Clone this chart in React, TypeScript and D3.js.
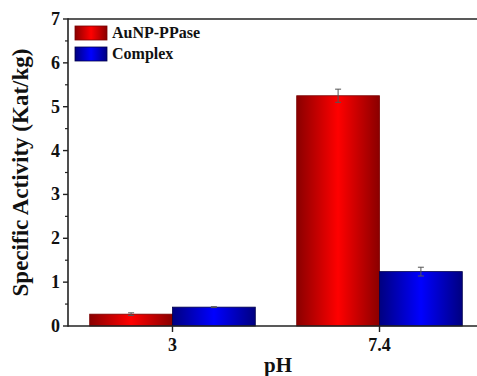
import * as d3 from 'd3';
import { useEffect, useRef } from 'react';

const categories = ['3', '7.4'];
const seriesNames = ['AuNP-PPase', 'Complex'];
const auValues = [0.27, 5.25];
const auErrors = [0.03, 0.15];
const complexValues = [0.43, 1.24];
const complexErrors = [0.01, 0.1];
const yTicks = [0, 1, 2, 3, 4, 5, 6, 7];

export default function App() {
  const ref = useRef<SVGSVGElement>(null);

  useEffect(() => {
    const width = 477;
    const height = 376;
    const svg = d3.select(ref.current);
    svg.selectAll('*').remove();
    svg.attr('width', width).attr('height', height);

    const margin = { top: 19, left: 68, bottom: 50 };
    // category axis runs 0.5 .. 2.5, right end is cut off by the picture
    const x = d3.scaleLinear().domain([0.5, 2.5]).range([69, 483]);
    const y = d3.scaleLinear().domain([0, 7]).range([height - margin.bottom, margin.top]);

    const defs = svg.append('defs');
    const makeGrad = (id: string, dark: string, bright: string) => {
      const g = defs.append('linearGradient').attr('id', id)
        .attr('x1', '0%').attr('x2', '100%').attr('y1', '0%').attr('y2', '0%');
      g.append('stop').attr('offset', '0%').attr('stop-color', dark);
      g.append('stop').attr('offset', '50%').attr('stop-color', bright);
      g.append('stop').attr('offset', '100%').attr('stop-color', dark);
    };
    makeGrad('gradRed', '#8a0000', '#ff0000');
    makeGrad('gradBlue', '#000080', '#0000ff');

    const series = [
      { name: seriesNames[0], values: auValues, errors: auErrors, fill: 'url(#gradRed)', stroke: '#7a0000', offset: -0.4 },
      { name: seriesNames[1], values: complexValues, errors: complexErrors, fill: 'url(#gradBlue)', stroke: '#00004a', offset: 0 }
    ];

    const barW = 0.4;
    series.forEach((s) => {
      const rows = categories.map((c, i) => ({ c, i: i + 1, v: s.values[i], e: s.errors[i] }));
      svg.append('g')
        .selectAll('rect')
        .data(rows)
        .enter()
        .append('rect')
        .attr('x', (d) => x(d.i + s.offset))
        .attr('width', x(barW) - x(0))
        .attr('y', (d) => y(d.v))
        .attr('height', (d) => y(0) - y(d.v))
        .attr('fill', s.fill)
        .attr('stroke', s.stroke)
        .attr('stroke-width', 0.8);

      // error bars
      const eb = svg.append('g').attr('stroke', '#555').attr('stroke-width', 1);
      rows.forEach((d) => {
        const cx = x(d.i + s.offset + barW / 2);
        eb.append('line').attr('x1', cx).attr('x2', cx).attr('y1', y(d.v + d.e)).attr('y2', y(d.v - d.e));
        eb.append('line').attr('x1', cx - 3).attr('x2', cx + 3).attr('y1', y(d.v + d.e)).attr('y2', y(d.v + d.e));
        eb.append('line').attr('x1', cx - 3).attr('x2', cx + 3).attr('y1', y(d.v - d.e)).attr('y2', y(d.v - d.e));
      });
    });

    // frame: left, bottom, top
    const axisColor = '#222';
    svg.append('line').attr('x1', margin.left).attr('x2', width).attr('y1', y(0)).attr('y2', y(0))
      .attr('stroke', axisColor).attr('stroke-width', 1.6);
    svg.append('line').attr('x1', margin.left).attr('x2', width).attr('y1', y(7)).attr('y2', y(7))
      .attr('stroke', axisColor).attr('stroke-width', 1.6);
    svg.append('line').attr('x1', margin.left).attr('x2', margin.left).attr('y1', y(0) + 0.8).attr('y2', y(7) - 0.8)
      .attr('stroke', axisColor).attr('stroke-width', 1.6);

    // y ticks
    const yg = svg.append('g');
    yTicks.forEach((t) => {
      yg.append('line').attr('x1', margin.left - 5).attr('x2', margin.left).attr('y1', y(t)).attr('y2', y(t))
        .attr('stroke', axisColor).attr('stroke-width', 1.4);
      yg.append('text').attr('x', margin.left - 8).attr('y', y(t) + 6).attr('text-anchor', 'end')
        .attr('font-family', 'Liberation Serif').attr('font-weight', 'bold').attr('font-size', 18)
        .attr('fill', '#111').text(String(t));
      if (t < 7) {
        yg.append('line').attr('x1', margin.left - 3).attr('x2', margin.left).attr('y1', y(t + 0.5)).attr('y2', y(t + 0.5))
          .attr('stroke', axisColor).attr('stroke-width', 1.2);
      }
    });

    // x ticks
    categories.forEach((c, i) => {
      svg.append('line').attr('x1', x(i + 1)).attr('x2', x(i + 1)).attr('y1', y(0)).attr('y2', y(0) + 6)
        .attr('stroke', axisColor).attr('stroke-width', 1.4);
      svg.append('text').attr('x', x(i + 1)).attr('y', y(0) + 25).attr('text-anchor', 'middle')
        .attr('font-family', 'Liberation Serif').attr('font-weight', 'bold').attr('font-size', 18)
        .attr('fill', '#111').text(c);
    });

    // axis titles
    svg.append('text').attr('x', 278).attr('y', 372).attr('text-anchor', 'middle')
      .attr('font-family', 'Liberation Serif').attr('font-weight', 'bold').attr('font-size', 21)
      .attr('fill', '#111').text('pH');
    svg.append('text').attr('transform', `translate(28,${(y(0) + y(7)) / 2}) rotate(-90)`)
      .attr('text-anchor', 'middle')
      .attr('font-family', 'Liberation Serif').attr('font-weight', 'bold').attr('font-size', 23)
      .attr('fill', '#111').text('Specific Activity (Kat/kg)');

    // legend
    const lg = svg.append('g');
    series.forEach((s, i) => {
      const ly = 26 + i * 21;
      lg.append('rect').attr('x', 75).attr('y', ly).attr('width', 32).attr('height', 14)
        .attr('fill', s.fill).attr('stroke', s.stroke).attr('stroke-width', 0.8);
      lg.append('text').attr('x', 112).attr('y', ly + 12).attr('font-family', 'Liberation Serif')
        .attr('font-weight', 'bold').attr('font-size', 16).attr('fill', '#111').text(s.name);
    });
  }, []);

  return (
    <svg ref={ref} style={{ position: 'fixed', left: 0, top: 0, background: '#fff' }}></svg>
  );
}
